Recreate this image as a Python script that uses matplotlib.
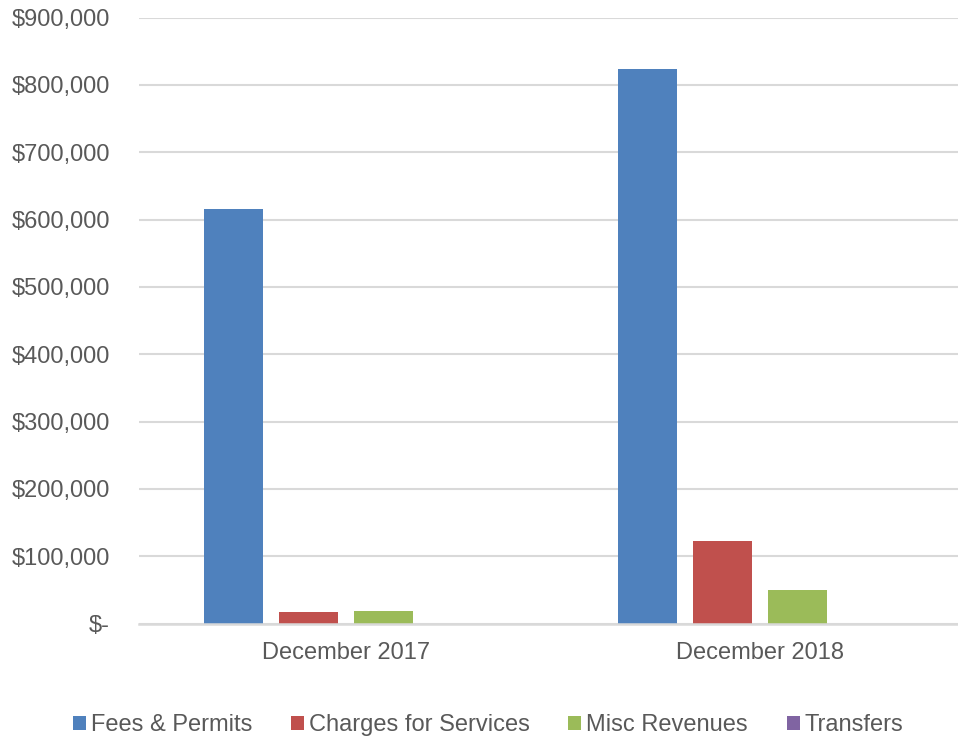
import matplotlib.pyplot as plt
import numpy as np
from matplotlib.patches import Patch
from matplotlib.ticker import FuncFormatter

plt.rcParams["font.family"] = ["Liberation Sans", "DejaVu Sans"]

categories = ["December 2017", "December 2018"]
series = ["Fees & Permits", "Charges for Services", "Misc Revenues", "Transfers"]
fees_permits = [615000, 824000]
charges_services = [16500, 122000]
misc_revenues = [18700, 50000]
transfers = [0, 0]

colors = ["#4F81BD", "#C0504D", "#9BBB59", "#8064A2"]
text_color = "#595959"
grid_color = "#D9D9D9"

fig = plt.figure(figsize=(9.58, 7.4), dpi=100)
ax = fig.add_axes([139 / 958, 116.5 / 740, 819 / 958, 606 / 740])

x = np.arange(len(categories))
step = 0.181
width = 0.1425
values = [fees_permits, charges_services, misc_revenues, transfers]
for i, (vals, col) in enumerate(zip(values, colors)):
    ax.bar(x + (i - 1.5) * step, vals, width=width, color=col, zorder=3)

ax.set_xlim(-0.5, 1.478)
ax.set_ylim(0, 900000)
ax.set_yticks(np.arange(0, 900001, 100000))


def money(v, _pos):
    if v == 0:
        return "$-"
    return f"${v:,.0f}"


ax.yaxis.set_major_formatter(FuncFormatter(money))
ax.set_xticks(x)
ax.set_xticklabels(categories)
ax.tick_params(axis="both", length=0, labelsize=17, colors=text_color)
ax.tick_params(axis="y", pad=21)
ax.tick_params(axis="x", pad=13)

ax.grid(axis="y", color=grid_color, linewidth=1.5, zorder=0)
for side in ["top", "right", "left"]:
    ax.spines[side].set_visible(False)
ax.spines["bottom"].set_color(grid_color)
ax.spines["bottom"].set_linewidth(1.8)
ax.spines["bottom"].set_zorder(4)

handles = [Patch(facecolor=c, edgecolor="none") for c in colors]
fig.legend(handles, series, loc="center", bbox_to_anchor=(488 / 958, 1 - 725 / 740),
           ncol=4, frameon=False, fontsize=17, labelcolor=text_color,
           handlelength=0.55, handleheight=0.55, handletextpad=0.2,
           columnspacing=1.65)

fig.savefig("out.png", dpi=100)
